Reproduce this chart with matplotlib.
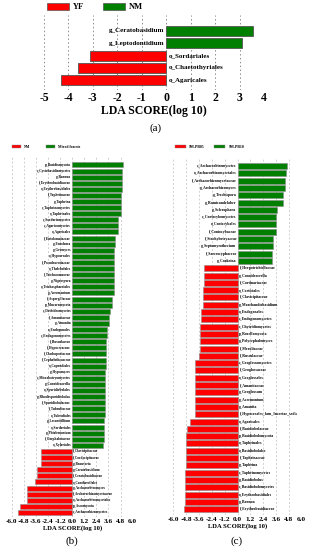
import numpy as np
import matplotlib
matplotlib.use("Agg")
import matplotlib.pyplot as plt
from matplotlib.patches import Patch
from matplotlib import transforms

plt.rcParams['font.family'] = ['Liberation Serif', 'DejaVu Serif']

# ---------------- data ----------------
# panel (a): top to bottom
a_labels = ["g_Ceratobasidium", "g_Leptodontidium", "o_Sordariales",
            "o_Chaetothyriales", "o_Agaricales"]
a_values = [3.53, 3.08, -3.11, -3.59, -4.32]
a_groups = ["NM", "YF"]
a_ticks = [-5, -4, -3, -2, -1, 0, 1, 2, 3, 4]

# panel (b): top to bottom
b_labels = [
    "p_Basidiomycota", "c_Cystobasidiomycetes", "g_Bannoa", "f_Erythrobasidiaceae",
    "o_Erythrobasidiales", "f_Taphrinaceae", "g_Taphrina", "c_Taphrinomycetes",
    "o_Taphrinales", "c_Sordariomycetes", "c_Agaricomycetes", "o_Agaricales",
    "f_Entolomataceae", "g_Entoloma", "g_Geomyces", "o_Hypocreales",
    "f_Pseudeurotiaceae", "o_Thelebolales", "f_Trichocomaceae", "g_Nigrospora",
    "o_Trichosphaeriales", "g_Acremonium", "f_Aspergillaceae", "p_Mucoromycota",
    "c_Dothideomycetes", "f_Amanitaceae", "g_Amanita", "o_Endogonales",
    "c_Endogonomycetes", "f_Russulaceae", "f_Hypocreaceae", "f_Cladosporiaceae",
    "f_Cephalothecaceae", "o_Capnodiales", "g_Hypomyces", "c_Microbotryomycetes",
    "g_Conoideocrella", "o_Sporidiobolales", "g_Rhodosporidiobolus", "f_Sporidiobolaceae",
    "f_Tubeufiaceae", "o_Tubeufiales", "g_Lecanicillium", "o_Sordariales",
    "g_Phialemonium", "f_Omphalotaceae", "o_Xylariales",
    "f_Clavicipitaceae", "f_Cordycipitaceae", "g_Beauveria", "g_Ceratobasidium",
    "f_Ceratobasidiaceae", "o_Cantharellales", "g_Archaeorhizomyces",
    "f_Archaeorhizomycetaceae", "o_Archaeorhizomycetales", "p_Ascomycota",
    "c_Archaeorhizomycetes"]
b_values = [
    5.08, 4.92, 4.92, 4.91, 4.89, 4.86, 4.86, 4.85, 4.85, 4.59, 4.56, 4.52,
    4.26, 4.20, 4.19, 4.19, 4.17, 4.16, 4.16, 4.15, 4.14, 4.10, 3.98, 3.97,
    3.70, 3.67, 3.66, 3.48, 3.44, 3.38, 3.35, 3.34, 3.32, 3.31, 3.30, 3.30,
    3.28, 3.28, 3.27, 3.25, 3.24, 3.21, 3.20, 3.15, 3.14, 3.11, 3.05,
    -3.05, -3.06, -3.06, -3.48, -3.51, -3.64, -4.49, -4.49, -4.49, -5.15, -5.41]
b_groups = ["Mixed forests", "NM"]

# panel (c): top to bottom
c_labels = [
    "c_Archaeorhizomycetes", "o_Archaeorhizomycetales", "f_Archaeorhizomycetaceae",
    "g_Archaeorhizomyces", "g_Trechispora", "g_Ramicandelaber", "g_Sclerophora",
    "c_Coniocybomycetes", "o_Coniocybales", "f_Coniocybaceae", "f_Stachybotryaceae",
    "g_Septomyrothecium", "f_Sarcoscyphaceae", "g_Cookeina",
    "f_Herpotrichiellaceae", "g_Conoideocrella", "f_Cortinariaceae", "o_Corticiales",
    "f_Clavicipitaceae", "g_Marchandiobasidium", "o_Endogonales", "c_Endogonomycetes",
    "c_Chytridiomycetes", "p_Rozellomycota", "g_Polycephalomyces", "f_Meruliaceae",
    "f_Russulaceae", "c_Geoglossomycetes", "f_Geoglossaceae", "o_Geoglossales",
    "f_Amanitaceae", "g_Geoglossum", "g_Acremonium", "g_Amanita",
    "f_Hypocreales_fam_Incertae_sedis", "o_Agaricales", "f_Basidiobolaceae",
    "p_Basidiobolomycota", "o_Taphrinales", "o_Basidiobolales", "f_Taphrinaceae",
    "g_Taphrina", "c_Taphrinomycetes", "g_Basidiobolus", "c_Basidiobolomycetes",
    "o_Erythrobasidiales", "g_Bannoa", "f_Erythrobasidiaceae"]
c_values = [
    4.60, 4.53, 4.48, 4.47, 4.28, 4.22, 3.66, 3.60, 3.60, 3.59, 3.34, 3.28, 3.25, 3.22,
    -3.16, -3.16, -3.16, -3.19, -3.22, -3.22, -3.38, -3.44, -3.47, -3.50, -3.50,
    -3.53, -3.63, -3.94, -3.94, -3.94, -3.97, -3.97, -3.97, -4.00, -4.00, -4.47,
    -4.75, -4.78, -4.81, -4.81, -4.84, -4.84, -4.88, -4.88, -4.90, -4.91, -4.94, -4.97]
c_groups = ["SM-PB10", "SM-PB05"]

bc_ticks = [-6.0, -4.8, -3.6, -2.4, -1.2, 0.0, 1.2, 2.4, 3.6, 4.8, 6.0]

RED = "#FF0000"
GREEN = "#007F00"
W, H = 311, 550

fig = plt.figure(figsize=(W / 100, H / 100), dpi=100)


def px_axes(x0, x1, ytop, ybot):
    return fig.add_axes([x0 / W, 1 - ybot / H, (x1 - x0) / W, (ybot - ytop) / H])


def lefse(ax, labels, values, ticks, xlim, ylim, lab_fs, tick_fs, xl_fs,
          grid_color, grid_ls, edge_color, edge_lw, tickfmt, gap_pt):
    n = len(labels)
    pos = np.arange(n)[::-1]
    vals = np.array(values)
    colors = [GREEN if v > 0 else RED for v in vals]
    ax.barh(pos, vals, height=0.82, color=colors, edgecolor=edge_color,
            linewidth=edge_lw, zorder=3)
    for p, v, lab in zip(pos, vals, labels):
        if v > 0:
            tr = transforms.offset_copy(ax.transData, fig=fig, x=-gap_pt, y=0, units='points')
            ax.text(0, p, lab, ha='right', va='center', fontsize=lab_fs,
                    fontweight='bold', transform=tr, zorder=4)
        else:
            tr = transforms.offset_copy(ax.transData, fig=fig, x=gap_pt, y=0, units='points')
            ax.text(0, p, lab, ha='left', va='center', fontsize=lab_fs,
                    fontweight='bold', transform=tr, zorder=4)
    ax.set_xlim(*xlim)
    ax.set_ylim(*ylim)
    ax.set_xticks(ticks)
    ax.set_xticklabels([tickfmt(t) for t in ticks], fontsize=tick_fs, fontweight='bold')
    ax.set_yticks([])
    ax.tick_params(axis='x', length=0, pad=1.5)
    for s in ax.spines.values():
        s.set_visible(False)
    ax.set_axisbelow(True)
    ax.xaxis.grid(True, linestyle=grid_ls, color=grid_color, linewidth=0.7, zorder=0)
    ax.set_xlabel("LDA SCORE(log 10)", fontsize=xl_fs, fontweight='bold', labelpad=1)


# ---------------- panel (a) ----------------
axa = px_axes(44, 264, 15, 90)
lefse(axa, a_labels, a_values, a_ticks, (-5, 4), (-0.8, 5.3), 5.0, 8.5, 8.5,
      "#8c8c8c", (0, (1.5, 2.5)), "#555555", 0.6, lambda t: str(int(t)), 1.5)
axa.legend(handles=[Patch(facecolor=RED, edgecolor="#555555", linewidth=0.5, label=a_groups[1]),
                    Patch(facecolor=GREEN, edgecolor="#555555", linewidth=0.5, label=a_groups[0])],
           loc='upper left', bbox_to_anchor=(47 / W, 1 - 3 / H), bbox_transform=fig.transFigure,
           ncol=2, frameon=False, prop={'weight': 'bold', 'size': 6},
           handlelength=2.6, handleheight=0.9, handletextpad=0.5, columnspacing=2.3,
           borderpad=0, borderaxespad=0)
fig.text(155.5 / W, 1 - 128 / H, "(a)", ha='center', va='center', fontsize=8)

# ---------------- panel (b) ----------------
axb = px_axes(11.7, 132.7, 157, 517)
fmt1 = lambda t: "%.1f" % (0.0 if abs(t) < 1e-9 else t)
lefse(axb, b_labels, b_values, bc_ticks, (-6, 6), (-0.75, 58.3), 2.5, 5.2, 4.8,
      "#cfcfcf", (0, (2, 2)), "#8a8a8a", 0.4, fmt1, 0.8)
axb.legend(handles=[Patch(facecolor=RED, edgecolor="#8a8a8a", linewidth=0.3, label=b_groups[1]),
                    Patch(facecolor=GREEN, edgecolor="#8a8a8a", linewidth=0.3, label=b_groups[0])],
           loc='upper left', bbox_to_anchor=(12 / W, 1 - 145 / H), bbox_transform=fig.transFigure,
           ncol=2, frameon=False, prop={'weight': 'bold', 'size': 2.8},
           handlelength=2.3, handleheight=0.9, handletextpad=0.8, columnspacing=4.0,
           borderpad=0, borderaxespad=0)
fig.text(72 / W, 1 - 541 / H, "(b)", ha='center', va='center', fontsize=8)

# ---------------- panel (c) ----------------
axc = px_axes(173.3, 301.7, 158, 515)
lefse(axc, c_labels, c_values, bc_ticks, (-6, 6), (-0.8, 48.1), 2.8, 5.2, 4.8,
      "#cfcfcf", (0, (2, 2)), "#8a8a8a", 0.4, fmt1, 0.8)
axc.legend(handles=[Patch(facecolor=RED, edgecolor="#8a8a8a", linewidth=0.3, label=c_groups[1]),
                    Patch(facecolor=GREEN, edgecolor="#8a8a8a", linewidth=0.3, label=c_groups[0])],
           loc='upper left', bbox_to_anchor=(175 / W, 1 - 145 / H), bbox_transform=fig.transFigure,
           ncol=2, frameon=False, prop={'weight': 'bold', 'size': 2.8},
           handlelength=2.8, handleheight=0.9, handletextpad=0.8, columnspacing=2.5,
           borderpad=0, borderaxespad=0)
fig.text(237 / W, 1 - 541 / H, "(c)", ha='center', va='center', fontsize=8)

fig.savefig("out.png", dpi=100)
